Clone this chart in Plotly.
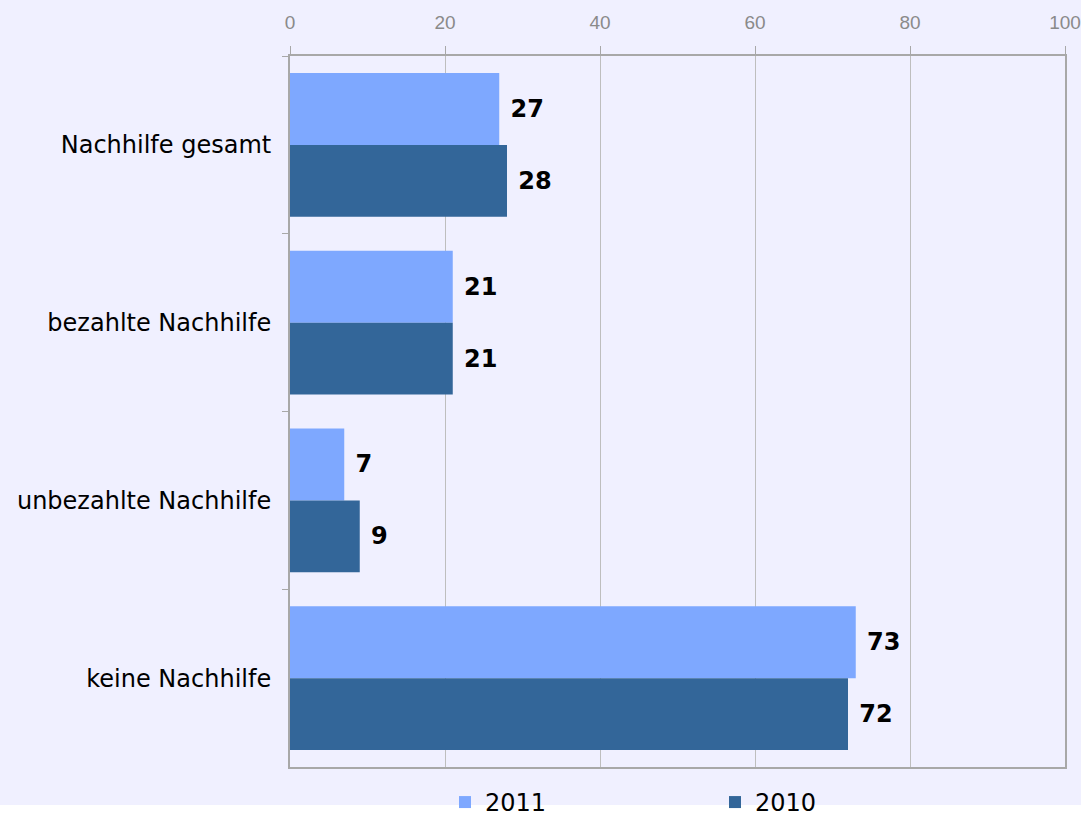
import plotly.graph_objects as go

categories = ["Nachhilfe gesamt", "bezahlte Nachhilfe", "unbezahlte Nachhilfe", "keine Nachhilfe"]
values_2011 = [27, 21, 7, 73]
values_2010 = [28, 21, 9, 72]
series_names = ["2011", "2010"]
tick_vals = [0, 20, 40, 60, 80, 100]

label_font = dict(family="DejaVu Sans", size=24, color="#000000", weight="bold")

fig = go.Figure()
fig.add_trace(go.Bar(
    y=categories, x=values_2011, name=series_names[0], orientation="h",
    marker=dict(color="#7EA8FF", line=dict(width=0)),
    text=values_2011, texttemplate="\u00a0%{x}", textposition="outside",
    textfont=label_font, cliponaxis=False,
))
fig.add_trace(go.Bar(
    y=categories, x=values_2010, name=series_names[1], orientation="h",
    marker=dict(color="#336699", line=dict(width=0)),
    text=values_2010, texttemplate="\u00a0%{x}", textposition="outside",
    textfont=label_font, cliponaxis=False,
))

fig.add_shape(type="rect", xref="paper", yref="paper",
              x0=-0.5, x1=1.1, y0=-0.0534, y1=1.2,
              fillcolor="#F0F0FF", line=dict(width=0), layer="below")

fig.update_layout(
    width=1081, height=818,
    margin=dict(l=290, r=16, t=56, b=51, autoexpand=False),
    paper_bgcolor="#FFFFFF",
    plot_bgcolor="#FFFFFF",
    barmode="group",
    bargap=0.19,
    bargroupgap=0,
    showlegend=True,
    legend=dict(orientation="h", x=0.200, y=0.019, xref="paper", yref="container",
                xanchor="left", yanchor="middle",
                entrywidth=225, entrywidthmode="pixels",
                font=dict(family="DejaVu Sans", size=24, color="#000000"),
                bgcolor="rgba(0,0,0,0)", itemwidth=30,
                traceorder="normal"),
    xaxis=dict(side="top", range=[0, 100], tickvals=tick_vals, ticktext=[str(v) for v in tick_vals],
               showgrid=True, gridcolor="#BEBEBE", gridwidth=1,
               showline=True, linecolor="#A8A8A8", linewidth=2, mirror=True,
               ticks="outside", ticklen=8, tickcolor="#A8A8A8",
               ticklabelstandoff=9, ticklabeloverflow="allow",
               tickfont=dict(family="Liberation Sans", size=19, color="#8A8A8A"),
               zeroline=False, fixedrange=True),
    yaxis=dict(autorange="reversed", categoryorder="array", categoryarray=categories,
               showline=True, linecolor="#A8A8A8", linewidth=2, mirror=True,
               ticks="outside", tickson="boundaries", ticklen=6, tickcolor="#A8A8A8",
               ticklabelstandoff=12,
               tickfont=dict(family="DejaVu Sans", size=24, color="#000000"),
               showgrid=False, fixedrange=True),
    font=dict(family="DejaVu Sans"),
)

fig.write_html("out.html", config={"displayModeBar": False},
               post_script="document.body.style.margin='0';")
